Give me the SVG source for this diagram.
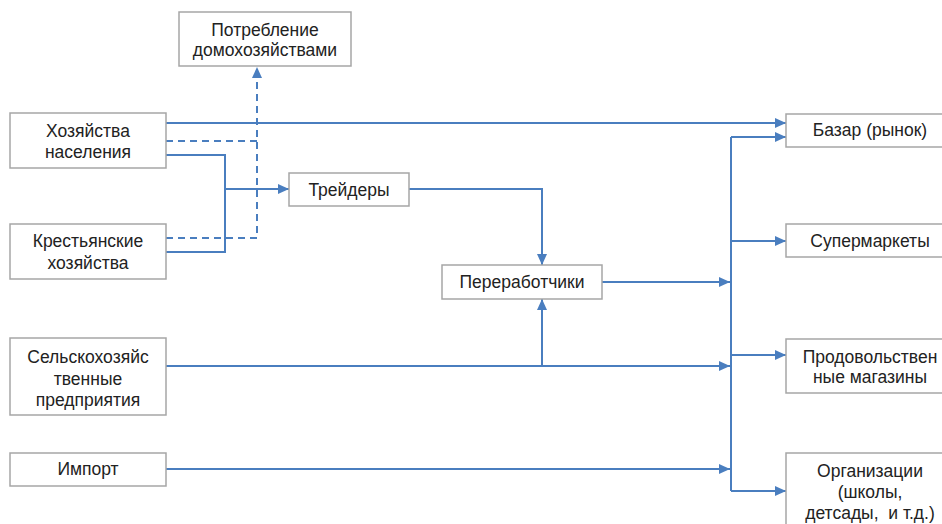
<svg xmlns="http://www.w3.org/2000/svg" width="942" height="524" viewBox="0 0 942 524">
<style>
.box{fill:#fff;stroke:#a6a6a6;stroke-width:1.5}
.t{font-family:"Liberation Sans",Arial,sans-serif;font-size:17.5px;fill:#222;text-anchor:middle;dominant-baseline:central;white-space:pre}
.c{fill:none;stroke:#4a7ebf;stroke-width:2}
.d{stroke-dasharray:7 5}
</style>
<defs>
<marker id="ah" markerUnits="userSpaceOnUse" markerWidth="11" markerHeight="10" refX="11" refY="5" orient="auto">
<path d="M0,0 L11,5 L0,10 z" fill="#4a7ebf"/>
</marker>
</defs>
<rect width="942" height="524" fill="#fff"/>
<g id="connectors">
<path class="c" d="M166,123 H786" marker-end="url(#ah)"/>
<path class="c d" d="M166,141 H257"/>
<path class="c d" d="M166,238 H257 V67" marker-end="url(#ah)"/>
<path class="c" d="M166,155 H225 V252 H166"/>
<path class="c" d="M225,189 H289" marker-end="url(#ah)"/>
<path class="c" d="M409,189 H542 V265" marker-end="url(#ah)"/>
<path class="c" d="M602,282 H730" marker-end="url(#ah)"/>
<path class="c" d="M166,366 H730" marker-end="url(#ah)"/>
<path class="c" d="M542,366 V299" marker-end="url(#ah)"/>
<path class="c" d="M166,469 H730" marker-end="url(#ah)"/>
<path class="c" d="M731,137 V491"/>
<path class="c" d="M731,137 H786" marker-end="url(#ah)"/>
<path class="c" d="M731,241 H786" marker-end="url(#ah)"/>
<path class="c" d="M731,355 H786" marker-end="url(#ah)"/>
<path class="c" d="M731,491 H786" marker-end="url(#ah)"/>
</g>
<g id="potreblenie"><rect class="box" x="179" y="12" width="172" height="54"/><text class="t" x="265" y="30">Потребление</text><text class="t" x="265" y="50">домохозяйствами</text></g>
<g id="hozyaystva"><rect class="box" x="10" y="113" width="156" height="55"/><text class="t" x="88" y="131">Хозяйства</text><text class="t" x="88" y="152">населения</text></g>
<g id="krestyanskie"><rect class="box" x="10" y="224" width="156" height="55"/><text class="t" x="88" y="241">Крестьянские</text><text class="t" x="88" y="263">хозяйства</text></g>
<g id="treydery"><rect class="box" x="289" y="173" width="120" height="33"/><text class="t" x="349" y="190">Трейдеры</text></g>
<g id="pererabotchiki"><rect class="box" x="442" y="265" width="160" height="34"/><text class="t" x="522" y="282">Переработчики</text></g>
<g id="selhoz"><rect class="box" x="10" y="338" width="156" height="77"/><text class="t" x="88" y="357">Сельскохозяйс</text><text class="t" x="88" y="379">твенные</text><text class="t" x="88" y="400">предприятия</text></g>
<g id="import"><rect class="box" x="10" y="453" width="156" height="33"/><text class="t" x="88" y="469">Импорт</text></g>
<g id="bazar"><rect class="box" x="786" y="114" width="168" height="33"/><text class="t" x="870" y="130">Базар (рынок)</text></g>
<g id="supermarkety"><rect class="box" x="786" y="224" width="168" height="33"/><text class="t" x="870" y="241">Супермаркеты</text></g>
<g id="prodovolstvennye"><rect class="box" x="786" y="339" width="168" height="54"/><text class="t" x="870" y="357">Продовольствен</text><text class="t" x="870" y="377">ные магазины</text></g>
<g id="organizatsii"><rect class="box" x="786" y="453" width="168" height="80"/><text class="t" x="870" y="471">Организации</text><text class="t" x="870" y="492">(школы,</text><text class="t" x="870" y="513">детсады,  и т.д.)</text></g>
</svg>
